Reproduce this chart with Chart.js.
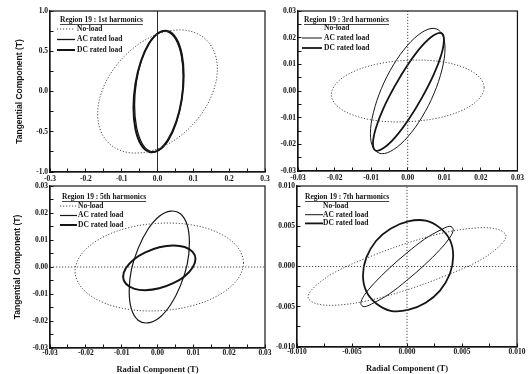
<!DOCTYPE html>
<html><head><meta charset="utf-8">
<script src="https://cdn.jsdelivr.net/npm/chart.js@4.4.1/dist/chart.umd.min.js"></script>
<style>
html,body{margin:0;padding:0;background:#fff;}
#wrap{position:relative;width:530px;height:374px;background:#fff;}
#wrap canvas{position:absolute;left:0;top:0;}
</style></head><body>
<div id="wrap">
<canvas id="c1" width="530" height="374"></canvas>
<canvas id="c3" width="530" height="374"></canvas>
<canvas id="c5" width="530" height="374"></canvas>
<canvas id="c7" width="530" height="374"></canvas>
</div>
<script>
// ---------------- text ----------------
const legendLabels = ['No-load', 'AC rated load', 'DC rated load'];
const panelTitles = ['Region 19 : 1st harmonics', 'Region 19 : 3rd harmonics', 'Region 19 : 5th harmonics', 'Region 19 : 7th harmonics'];
const yAxisTitle = 'Tangential Component (T)';
const xAxisTitle = 'Radial Component (T)';

// ---------------- tick labels ----------------
const h1XTicks = ['-0.3', '-0.2', '-0.1', '0.0', '0.1', '0.2', '0.3'];
const h1YTicks = ['-1.0', '-0.5', '0.0', '0.5', '1.0'];
const h3XTicks = ['-0.03', '-0.02', '-0.01', '0.00', '0.01', '0.02', '0.03'];
const h3YTicks = ['-0.03', '-0.02', '-0.01', '0.00', '0.01', '0.02', '0.03'];
const h5XTicks = ['-0.03', '-0.02', '-0.01', '0.00', '0.01', '0.02', '0.03'];
const h5YTicks = ['-0.03', '-0.02', '-0.01', '0.00', '0.01', '0.02', '0.03'];
const h7XTicks = ['-0.010', '-0.005', '0.000', '0.005', '0.010'];
const h7YTicks = ['-0.010', '-0.005', '0.000', '0.005', '0.010'];

// ---------------- 1st harmonics [radial, tangential] ----------------
const h1NoLoad = [[0.167,0.28],[0.1543,0.531],[0.1181,0.701],[0.064,0.765],[0,0.712],[-0.064,0.551],[-0.1181,0.305],[-0.1543,0.014],[-0.167,-0.28],[-0.1543,-0.531],[-0.1181,-0.701],[-0.064,-0.765],[0,-0.712],[0.064,-0.551],[0.1181,-0.305],[0.1543,-0.014]];
const h1AC = [[0.072,0.17],[0.0668,0.4366],[0.0521,0.6363],[0.030,0.7396],[0.004,0.73],[-0.022,0.6094],[-0.0441,0.3959],[-0.0588,0.1226],[-0.064,-0.17],[-0.0588,-0.4366],[-0.0441,-0.6363],[-0.022,-0.7396],[0.004,-0.73],[0.030,-0.6094],[0.0521,-0.3959],[0.0668,-0.1226]];
const h1DC = [[0.073,0.2],[0.0677,0.4636],[0.0525,0.6561],[0.0298,0.7493],[0.003,0.728],[-0.0238,0.5961],[-0.0465,0.3733],[-0.0617,0.094],[-0.067,-0.2],[-0.0617,-0.4636],[-0.0465,-0.6561],[-0.0238,-0.7493],[0.003,-0.728],[0.0298,-0.5961],[0.0525,-0.3733],[0.0677,-0.094]];
const h1Zero = [[0,-1],[0,1]];

// ---------------- 3rd harmonics ----------------
const h3NoLoad = [[0.0209,0.0013],[0.0193,0.0056],[0.0148,0.0091],[0.008,0.0112],[0,0.0115],[-0.008,0.0102],[-0.0148,0.0073],[-0.0193,0.0032],[-0.0209,-0.0013],[-0.0193,-0.0056],[-0.0148,-0.0091],[-0.008,-0.0112],[0,-0.0115],[0.008,-0.0102],[0.0148,-0.0073],[0.0193,-0.0032]];
const h3AC = [[0.0102,0.016],[0.0094,0.0214],[0.0072,0.0235],[0.0039,0.022],[0,0.0172],[-0.0039,0.0098],[-0.0072,0.0009],[-0.0094,-0.0082],[-0.0102,-0.016],[-0.0094,-0.0214],[-0.0072,-0.0235],[-0.0039,-0.022],[0,-0.0172],[0.0039,-0.0098],[0.0072,-0.0009],[0.0094,0.0082]];
const h3DC = [[0.0099,0.0192],[0.0092,0.0217],[0.0071,0.0209],[0.0039,0.0169],[0.0002,0.0102],[-0.0035,0.0019],[-0.0067,-0.0067],[-0.0088,-0.0143],[-0.0095,-0.0198],[-0.0088,-0.0223],[-0.0067,-0.0215],[-0.0035,-0.0175],[0.0002,-0.0108],[0.0039,-0.0025],[0.0071,0.0061],[0.0092,0.0137]];
const h3Zero = [[0,-0.03],[0,0.03]];

// ---------------- 5th harmonics ----------------
const h5NoLoad = [[0.024,0.0015],[0.0222,0.0076],[0.0171,0.0126],[0.0095,0.0156],[0.0005,0.0162],[-0.0085,0.0144],[-0.0161,0.0104],[-0.0212,0.0048],[-0.023,-0.0015],[-0.0212,-0.0076],[-0.0161,-0.0126],[-0.0085,-0.0156],[0.0005,-0.0162],[0.0095,-0.0144],[0.0171,-0.0104],[0.0222,-0.0048]];
const h5AC = [[0.0089,0.009],[0.0083,0.0155],[0.0064,0.0197],[0.0037,0.0207],[0.0005,0.0188],[-0.0027,0.0139],[-0.0054,0.0069],[-0.0073,-0.0011],[-0.0079,-0.009],[-0.0073,-0.0155],[-0.0054,-0.0197],[-0.0027,-0.0207],[0.0005,-0.0188],[0.0037,-0.0139],[0.0064,-0.0069],[0.0083,0.0011]];
const h5DC = [[0.0106,0.003],[0.0098,0.0056],[0.0076,0.0074],[0.0044,0.008],[0.0005,0.0073],[-0.0034,0.0054],[-0.0066,0.0028],[-0.0088,-0.0004],[-0.0096,-0.0036],[-0.0088,-0.0062],[-0.0066,-0.008],[-0.0034,-0.0086],[0.0005,-0.0079],[0.0044,-0.006],[0.0076,-0.0034],[0.0098,-0.0002]];
const h5Zero = [[-0.03,0],[0.03,0]];

// ---------------- 7th harmonics ----------------
const h7NoLoad = [[0.009,0.0038],[0.0083,0.0046],[0.0064,0.0048],[0.0034,0.0042],[0,0.0029],[-0.0034,0.0012],[-0.0064,-0.0006],[-0.0083,-0.0024],[-0.009,-0.0038],[-0.0083,-0.0046],[-0.0064,-0.0048],[-0.0034,-0.0042],[0,-0.0029],[0.0034,-0.0012],[0.0064,0.0006],[0.0083,0.0024]];
const h7AC = [[0.0042,0.0046],[0.0039,0.005],[0.003,0.0045],[0.0016,0.0034],[0,0.0017],[-0.0016,-0.0002],[-0.003,-0.0021],[-0.0039,-0.0036],[-0.0042,-0.0046],[-0.0039,-0.005],[-0.003,-0.0045],[-0.0016,-0.0034],[0,-0.0017],[0.0016,0.0002],[0.003,0.0021],[0.0039,0.0036]];
const h7DC = [[0.0042,0.0013],[0.0039,0.0033],[0.003,0.0048],[0.0017,0.0057],[0.0001,0.0056],[-0.0015,0.0047],[-0.0028,0.0032],[-0.0037,0.0011],[-0.004,-0.0011],[-0.0037,-0.0031],[-0.0028,-0.0046],[-0.0015,-0.0055],[0.0001,-0.0054],[0.0017,-0.0045],[0.003,-0.003],[0.0039,-0.0009]];
const h7ZeroV = [[0,-0.01],[0,0.01]];
const h7ZeroH = [[-0.01,0],[0.01,0]];

// ---------------- helpers ----------------
const INK = '#151515';
const DOT = '#4a4a4a';
const toPts = a => a.map(p => ({x: p[0], y: p[1]}));
// closed loop: one wrap-around point on each side so the spline is smooth at the seam
const loop = a => toPts([a[a.length - 1]].concat(a, [a[0], a[1]]));

function curve(label, pts, kind, w) {
  const n = pts.length + 3;
  const base = {label, data: loop(pts), showLine: true, pointRadius: 0, tension: 0.35, fill: false, inLegend: true,
    segment: {borderColor: ctx => (ctx.p0DataIndex === 0 || ctx.p1DataIndex === n - 1) ? 'rgba(0,0,0,0)' : undefined}};
  if (kind === 'noload') return Object.assign(base, {borderColor: DOT, borderWidth: 1, borderDash: [1.2, 1.8]});
  return Object.assign(base, {borderColor: INK, borderWidth: w});
}
function refLine(pts, dotted) {
  return {label: '_zero', data: toPts(pts), showLine: true, pointRadius: 0, tension: 0, fill: false,
    borderColor: dotted ? DOT : INK, borderWidth: dotted ? 1 : 0.9, borderDash: dotted ? [1.2, 1.8] : []};
}

const tickFont = {family: '"Liberation Serif", "DejaVu Serif", serif', weight: 'bold', size: 7.5};

function axis(min, max, step, labels, fitSize, horizontal, tickPad, title) {
  const ax = {
    type: 'linear', min, max,
    ticks: {
      stepSize: step, maxTicksLimit: 200, autoSkip: false, maxRotation: 0, minRotation: 0,
      padding: tickPad, font: tickFont, color: INK,
      callback: v => {
        const m = labels.find(l => Math.abs(parseFloat(l) - v) < step * 1e-3);
        return m === undefined ? '' : m;
      }
    },
    grid: {drawOnChartArea: false, drawTicks: true, tickLength: -3.5, color: INK, tickColor: INK, tickWidth: 1},
    border: {display: true, color: INK, width: 1.2},
    afterFit: s => { if (horizontal) s.height = fitSize; else s.width = fitSize; }
  };
  if (title) ax.title = title;
  return ax;
}

const legendPlugin = {
  id: 'panelLegend',
  afterDatasetsDraw(chart, args, o) {
    const ctx = chart.ctx, a = chart.chartArea;
    ctx.save();
    ctx.font = 'bold 7.5px "Liberation Serif"';
    ctx.fillStyle = INK;
    ctx.textBaseline = 'middle';
    ctx.textAlign = 'left';
    const tx = a.left + o.titleX, ty = a.top + o.titleY;
    ctx.fillText(o.title, tx, ty);
    const w = ctx.measureText(o.title).width;
    ctx.strokeStyle = INK; ctx.lineWidth = 0.8; ctx.setLineDash([]);
    ctx.beginPath(); ctx.moveTo(tx, ty + 4.5); ctx.lineTo(tx + w, ty + 4.5); ctx.stroke();
    let row = 0;
    chart.data.datasets.forEach(ds => {
      if (!ds.inLegend) return;
      const y = ty + o.rowStart + row * o.rowGap;
      const isNo = ds.label === legendLabels[0];
      if (!(isNo && o.hideNoLoadSample)) {
        ctx.strokeStyle = ds.borderColor;
        ctx.lineWidth = ds.borderWidth;
        ctx.setLineDash(ds.borderDash || []);
        ctx.beginPath();
        ctx.moveTo(a.left + o.sampleX0, y); ctx.lineTo(a.left + o.sampleX1, y);
        ctx.stroke();
      }
      ctx.setLineDash([]);
      ctx.fillStyle = INK;
      ctx.fillText(ds.label, a.left + o.textX, y);
      row++;
    });
    ctx.restore();
  }
};
const framePlugin = {
  id: 'frame',
  afterDraw(chart) {
    const ctx = chart.ctx, a = chart.chartArea;
    ctx.save();
    ctx.strokeStyle = INK; ctx.lineWidth = 1.2;
    ctx.strokeRect(a.left, a.top, a.right - a.left, a.bottom - a.top);
    ctx.restore();
  }
};

function panel(id, p) {
  const W = 530, H = 374;
  const yW = p.yTitle ? p.L : 32;
  const xH = p.xTitle ? 26 : 14;
  const yTitle = p.yTitle ? {display: true, text: yAxisTitle, color: INK,
      font: {family: '"Liberation Sans", Arial, sans-serif', weight: 'bold', size: 8.5, lineHeight: 1.2},
      padding: {top: p.yTitleX - 5.1, bottom: 0}} : undefined;
  const xTitle = p.xTitle ? {display: true, text: xAxisTitle, color: INK,
      font: {family: '"Liberation Serif", serif', weight: 'bold', size: 8.5, lineHeight: 1.0},
      padding: {top: 0, bottom: 0}} : undefined;
  return new Chart(document.getElementById(id), {
    type: 'scatter',
    data: {datasets: p.datasets},
    options: {
      responsive: false, animation: false, devicePixelRatio: 1,
      layout: {padding: {left: p.L - yW, top: p.T, right: W - p.R, bottom: H - p.B - xH}},
      scales: {
        x: axis(p.x[0], p.x[1], p.x[2], p.xLabels, xH, true, p.xPad, xTitle),
        y: axis(p.y[0], p.y[1], p.y[2], p.yLabels, yW, false, 5.5, yTitle)
      },
      plugins: {
        legend: {display: false}, tooltip: {enabled: false},
        panelLegend: Object.assign({title: p.title}, p.leg)
      }
    },
    plugins: [legendPlugin, framePlugin]
  });
}

panel('c1', {
  L: 50, R: 265, T: 11, B: 172, yTitle: true, yTitleX: 20, xTitle: false, xPad: 6,
  x: [-0.3, 0.3, 0.05], y: [-1, 1, 0.25], xLabels: h1XTicks, yLabels: h1YTicks, title: panelTitles[0],
  leg: {titleX: 10, titleY: 9, rowStart: 9, rowGap: 10.5, sampleX0: 7, sampleX1: 25, textX: 27},
  datasets: [refLine(h1Zero, false), curve(legendLabels[0], h1NoLoad, 'noload'), curve(legendLabels[1], h1AC, 'ac', 1.3), curve(legendLabels[2], h1DC, 'dc', 2)]
});
panel('c3', {
  L: 298, R: 518, T: 11, B: 171, yTitle: false, xTitle: false, xPad: 6,
  x: [-0.03, 0.03, 0.005], y: [-0.03, 0.03, 0.005], xLabels: h3XTicks, yLabels: h3YTicks, title: panelTitles[1],
  leg: {titleX: 6, titleY: 9, rowStart: 8, rowGap: 10, sampleX0: 4, sampleX1: 24, textX: 26, hideNoLoadSample: true},
  datasets: [refLine(h3Zero, true), curve(legendLabels[0], h3NoLoad, 'noload'), curve(legendLabels[1], h3AC, 'ac', 1), curve(legendLabels[2], h3DC, 'dc', 1.8)]
});
panel('c5', {
  L: 50, R: 265, T: 186, B: 348, yTitle: true, yTitleX: 18, xTitle: true, xPad: 4.5,
  x: [-0.03, 0.03, 0.005], y: [-0.03, 0.03, 0.005], xLabels: h5XTicks, yLabels: h5YTicks, title: panelTitles[2],
  leg: {titleX: 12, titleY: 11, rowStart: 9, rowGap: 9.5, sampleX0: 10, sampleX1: 27, textX: 28},
  datasets: [refLine(h5Zero, true), curve(legendLabels[0], h5NoLoad, 'noload'), curve(legendLabels[1], h5AC, 'ac', 1.2), curve(legendLabels[2], h5DC, 'dc', 2)]
});
panel('c7', {
  L: 297, R: 517, T: 186, B: 347, yTitle: false, xTitle: true, xPad: 4.5,
  x: [-0.01, 0.01, 0.0025], y: [-0.01, 0.01, 0.0025], xLabels: h7XTicks, yLabels: h7YTicks, title: panelTitles[3],
  leg: {titleX: 8, titleY: 11, rowStart: 9, rowGap: 8.7, sampleX0: 8, sampleX1: 26, textX: 26, hideNoLoadSample: true},
  datasets: [refLine(h7ZeroV, true), refLine(h7ZeroH, true), curve(legendLabels[0], h7NoLoad, 'noload'), curve(legendLabels[1], h7AC, 'ac', 1), curve(legendLabels[2], h7DC, 'dc', 1.8)]
});
</script>
</body></html>
